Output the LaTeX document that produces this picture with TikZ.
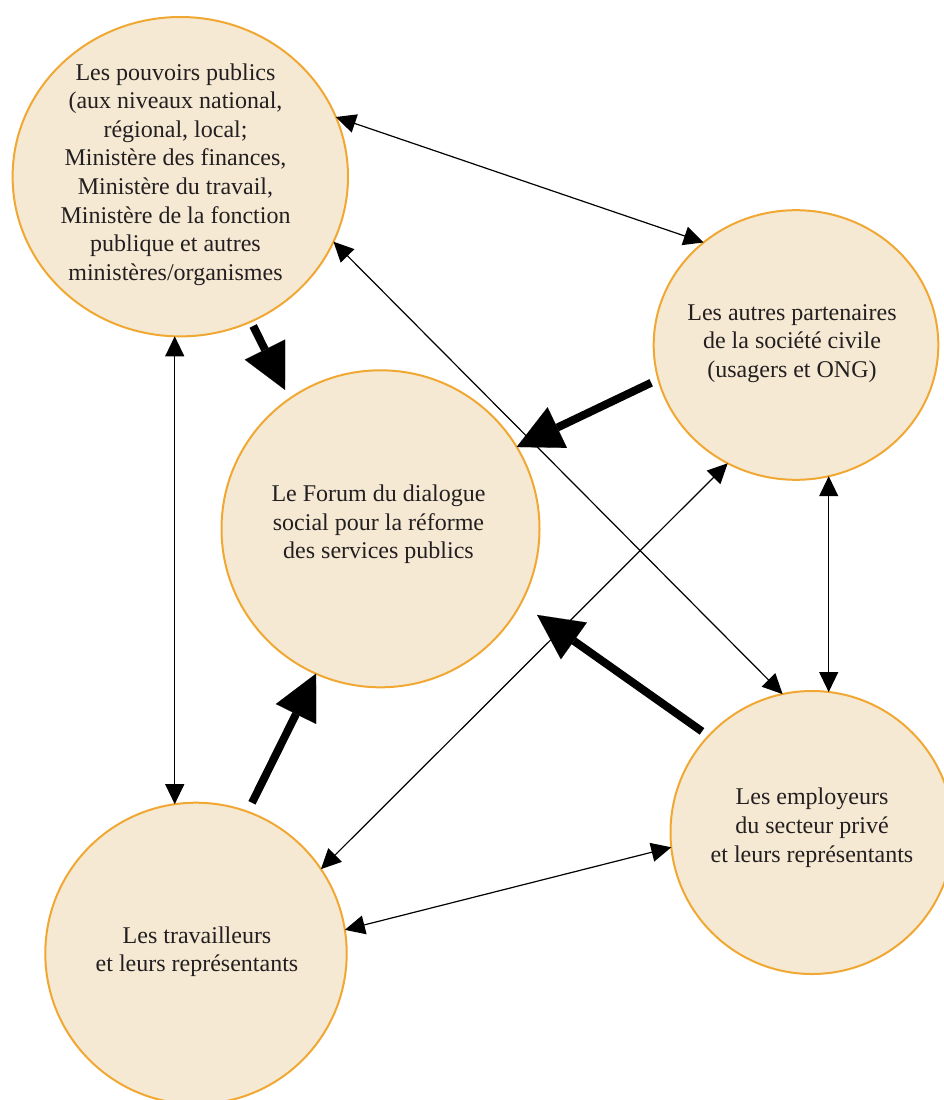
\documentclass[tikz,border=0pt]{standalone}
\usepackage{fontspec}
\setmainfont{Liberation Serif}
\usetikzlibrary{arrows.meta,shapes.geometric}
\definecolor{circfill}{RGB}{246,233,212}
\definecolor{circline}{RGB}{240,168,50}
\definecolor{txtcol}{RGB}{35,31,32}
\begin{document}
\begin{tikzpicture}[x=1pt,y=-1pt,
  blob/.style={ellipse, draw=circline, line width=2pt, fill=circfill, inner sep=0pt, outer sep=0pt},
  lbl/.style={align=center, text=txtcol, font=\fontsize{24}{28.6}\selectfont, inner sep=0pt},
  thinarr/.style={line width=1.2pt, {Triangle[length=20pt,width=19pt]}-{Triangle[length=20pt,width=19pt]}},
  thickarr/.style={line width=8pt, -{Triangle[length=45pt,width=45pt,line width=0.1pt]}}
]
\useasboundingbox (0,0) rectangle (944,1100);
\fill[white] (0,0) rectangle (944,1100);

\node[blob, minimum width=335.4pt, minimum height=319.4pt] (tl) at (180.3,176.7) {};
\node[blob, minimum width=284.6pt, minimum height=269.6pt] (rt) at (796,345) {};
\node[blob, minimum width=318pt, minimum height=317pt] (fo) at (380.5,528.8) {};
\node[blob, minimum width=301.4pt, minimum height=301.4pt] (bl) at (196,953.4) {};
\node[blob, minimum width=283pt, minimum height=283pt] (em) at (812,832.5) {};

\node[lbl] (tltxt) at (175.5,174.4) {Les pouvoirs publics\\(aux niveaux national,\\régional, local;\\Ministère des finances,\\Ministère du travail,\\Ministère de la fonction\\publique et autres\\ministères/organismes};
\node[lbl] (rttxt) at (792,343.3) {Les autres partenaires\\de la société civile\\(usagers et ONG)};
\node[lbl] (fotxt) at (378.5,524.4) {Le Forum du dialogue\\social pour la réforme\\des services publics};
\node[lbl] (bltxt) at (197,951.9) {Les travailleurs\\et leurs représentants};
\node[lbl] (emtxt) at (812,827.7) {Les employeurs\\du secteur privé\\et leurs représentants};

% thin double-headed connectors
\draw[thinarr] (tl.21.3) -- (rt.132.7);
\draw[thinarr] (tl.-23.8) -- (em.102.4);
\draw[thinarr] (rt.-120.7) -- (bl.34.1);
\draw[thinarr] (rt.-76.8) -- (rt.-76.8 |- em.83.7);
\draw[thinarr] (tl.-92.9) -- (tl.-92.9 |- bl.98.9);
\draw[thinarr] (bl.9) -- (em.186.3);

% thick arrows to the forum
\draw[thickarr, shorten <=5pt, shorten >=10pt] (tl.-64.3) -- (fo.125.1);
\draw[thickarr, shorten <=8pt] (rt.194.7) -- (fo.31.6);
\draw[thickarr, shorten <=8pt, shorten >=20pt] (em.137.6) -- (fo.-28.4);
\draw[thickarr, shorten <=10pt] (bl.70.4) -- (fo.-114.8);
\end{tikzpicture}
\end{document}
